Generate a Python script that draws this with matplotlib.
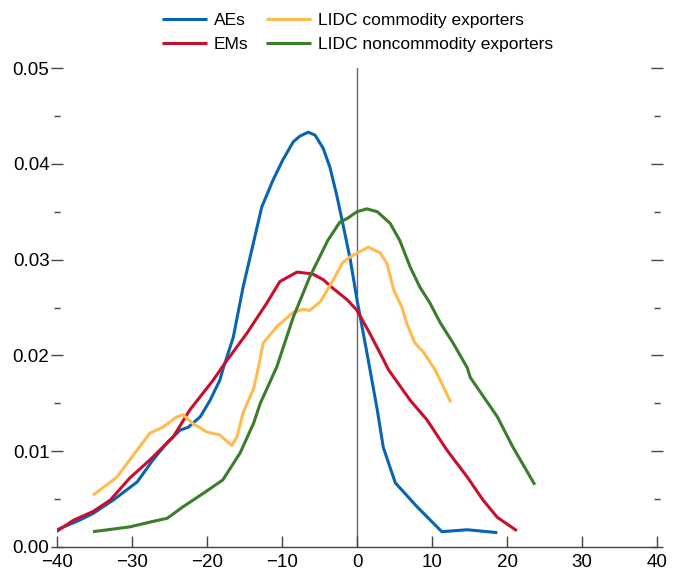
import matplotlib
matplotlib.use("Agg")
import matplotlib.pyplot as plt
from matplotlib.ticker import MultipleLocator

plt.rcParams["font.family"] = ["Liberation Sans Narrow", "Liberation Sans", "DejaVu Sans"]

# density curves
aes_x = [-40, -37, -35.2, -32.5, -29.3, -27.2, -25.3, -23.6, -22.5, -20.9, -19.6, -18.3,
         -17.9, -16.5, -15.2, -13.8, -12.7, -11.2, -9.9, -8.5, -7.6, -6.5, -5.6, -4.5,
         -3.6, -2.7, -1.8, -0.9, 0, 1.5, 2.7, 3.5, 5.1, 8, 11.3, 14.7, 18.7]
aes_y = [0.0018, 0.0028, 0.0035, 0.0049, 0.0068, 0.0091, 0.0109, 0.0122, 0.0125, 0.0136,
         0.0153, 0.0174, 0.0185, 0.0219, 0.0271, 0.0318, 0.0355, 0.0383, 0.0404, 0.0423,
         0.0429, 0.0433, 0.0430, 0.0416, 0.0396, 0.0367, 0.0334, 0.0300, 0.0258, 0.0195,
         0.0143, 0.0104, 0.0067, 0.0042, 0.0016, 0.0018, 0.0015]

ems_x = [-40.3, -37.8, -35.2, -32.9, -30.3, -27.6, -24.5, -22.3, -19.2, -17.6, -14.7,
         -12, -10.3, -8, -5.9, -4.5, -3.2, -1.3, 0, 1.7, 3.1, 4.2, 7.1, 9.3, 12, 14.7,
         16.8, 18.7, 21.3]
ems_y = [0.0015, 0.0028, 0.0037, 0.0049, 0.0072, 0.0091, 0.0115, 0.0143, 0.0174, 0.0192,
         0.0223, 0.0255, 0.0277, 0.0287, 0.0285, 0.0279, 0.0270, 0.0258, 0.0247, 0.0223,
         0.0202, 0.0185, 0.0153, 0.0133, 0.0101, 0.0073, 0.0049, 0.0031, 0.0017]

com_x = [-35.2, -32, -30.3, -27.6, -25.9, -24, -23.2, -21.9, -20, -18.3, -16.7, -16,
         -15.2, -13.8, -13.3, -12.5, -10.7, -8.5, -7.2, -6.3, -4.9, -3.6, -1.9, -0.9,
         1.5, 3.1, 4, 4.9, 6, 6.6, 7.7, 8.8, 10.4, 11.1, 12.5]
com_y = [0.0054, 0.0073, 0.0091, 0.0119, 0.0125, 0.0136, 0.0138, 0.0129, 0.0120, 0.0117,
         0.0106, 0.0115, 0.0140, 0.0165, 0.0182, 0.0213, 0.0230, 0.0245, 0.0248, 0.0247,
         0.0256, 0.0273, 0.0297, 0.0303, 0.0313, 0.0307, 0.0296, 0.0268, 0.0250, 0.0234,
         0.0213, 0.0204, 0.0185, 0.0174, 0.0151]

non_x = [-35.2, -30.3, -27.6, -25.3, -23.2, -20.5, -17.9, -15.6, -13.8, -12.9, -10.7,
         -8.5, -6.3, -3.9, -2.3, -1.3, 0, 1.3, 2.7, 4.4, 5.7, 7.1, 8.4, 9.7, 11.1, 12.8,
         14.7, 15.1, 18.7, 20.8, 23.7]
non_y = [0.0016, 0.0021, 0.0026, 0.0030, 0.0042, 0.0056, 0.0070, 0.0098, 0.0129, 0.0150,
         0.0188, 0.0240, 0.0282, 0.0320, 0.0339, 0.0343, 0.0350, 0.0353, 0.0350, 0.0338,
         0.0320, 0.0292, 0.0271, 0.0255, 0.0234, 0.0213, 0.0187, 0.0177, 0.0136, 0.0104,
         0.0065]

series = [
    ("AEs", aes_x, aes_y, "#0a64b4"),
    ("EMs", ems_x, ems_y, "#c8102e"),
    ("LIDC commodity exporters", com_x, com_y, "#ffbb4f"),
    ("LIDC noncommodity exporters", non_x, non_y, "#3a7d2a"),
]

fig = plt.figure(figsize=(6.78, 5.75), dpi=100)
ax = fig.add_axes([0.0841, 0.0487, 0.885, 0.833])

ax.axvline(0, color="#666666", linewidth=1.0, zorder=1)
handles = []
for label, xs, ys, color in series:
    (ln,) = ax.plot(xs, ys, color=color, linewidth=2.2, label=label,
                    solid_capstyle="butt", solid_joinstyle="round", zorder=2)
    handles.append(ln)

ax.set_xlim(-40, 40)
ax.set_ylim(0, 0.05)
ax.xaxis.set_major_locator(MultipleLocator(10))
ax.yaxis.set_major_locator(MultipleLocator(0.01))
ax.yaxis.set_minor_locator(MultipleLocator(0.005))
ax.xaxis.set_major_formatter(plt.FuncFormatter(lambda v, p: f"{v:.0f}".replace("-", "\u2212")))
ax.yaxis.set_major_formatter(plt.FuncFormatter(lambda v, p: f"{v:.2f}"))

for side in ("top", "left", "right"):
    ax.spines[side].set_visible(False)
ax.spines["bottom"].set_color("#444444")
ax.spines["bottom"].set_linewidth(1.0)

ax.tick_params(axis="x", direction="in", length=8, width=1, color="#444444",
               labelsize=13.5, pad=5)
ax.tick_params(axis="y", which="major", direction="inout", length=9, width=1,
               color="#444444", labelsize=13.5, left=True, right=True, pad=1)
ax.tick_params(axis="y", which="minor", direction="inout", length=4, width=1,
               color="#444444", left=True, right=True)

fig.legend(handles=handles, loc="upper center", bbox_to_anchor=(0.527, 1.005), ncol=2,
           frameon=False, fontsize=12.5, handlelength=2.6, handletextpad=0.4,
           columnspacing=1.0, labelspacing=0.5)

fig.savefig("out.png", dpi=100)
